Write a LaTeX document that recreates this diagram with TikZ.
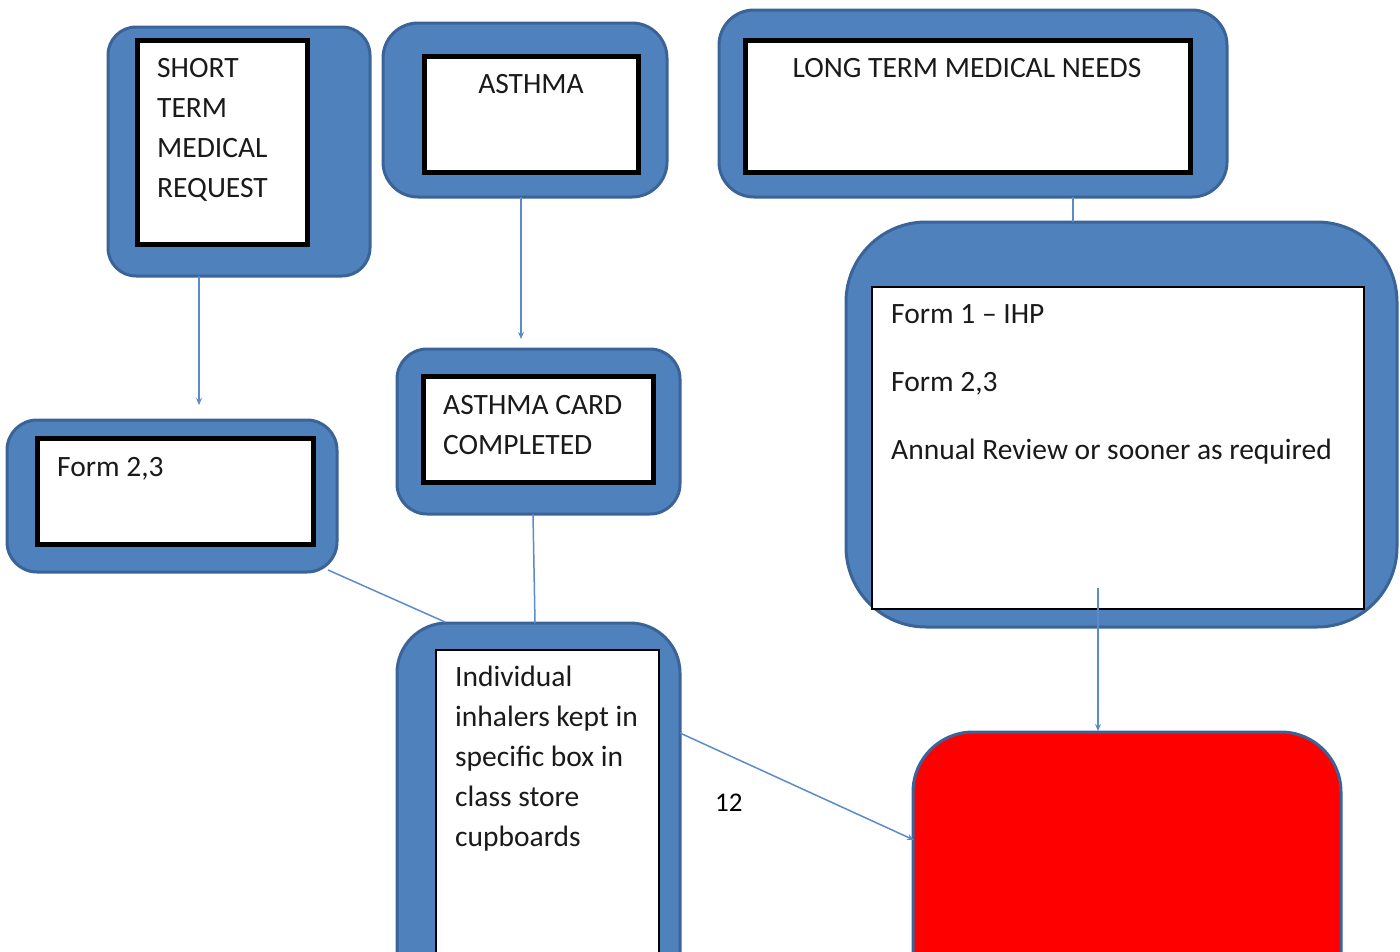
\documentclass[tikz,border=0pt]{standalone}
\usepackage{fontspec}
\setmainfont{Carlito}
\usetikzlibrary{arrows.meta,calc}
\definecolor{boxblue}{HTML}{4F81BD}
\definecolor{boxedge}{HTML}{3A6497}
\definecolor{linkblue}{HTML}{5B8BC9}
\definecolor{txt}{HTML}{1A1A1A}
\tikzset{
  outerbox/.style={draw=boxedge,line width=3pt,fill=boxblue,rectangle,inner sep=0pt},
  innerthick/.style={draw=black,line width=5pt,fill=white,rectangle,inner sep=0pt},
  innerthin/.style={draw=black,line width=2pt,fill=white,rectangle,inner sep=0pt},
  redbox/.style={draw=boxedge,line width=3pt,fill=red,rectangle,rounded corners=60pt,inner sep=0pt},
  label/.style={anchor=base west,inner sep=0pt,text=txt,font=\fontsize{29.5}{34}\selectfont},
  clabel/.style={anchor=base,inner sep=0pt,text=txt,font=\fontsize{29.5}{34}\selectfont},
  link/.style={draw=linkblue,line width=1.5pt},
  linkarrow/.style={link,-{Stealth[length=7pt,width=6pt]}}
}
\begin{document}
\begin{tikzpicture}[x=1pt,y=-1pt]
\useasboundingbox (0,0) rectangle (1400,951);
\clip (0,0) rectangle (1400,951);
% outer blue boxes
\node[outerbox,rounded corners=28pt,minimum width=262pt,minimum height=249pt] (shortO) at (239,151.5) {};
\node[outerbox,rounded corners=35pt,minimum width=284pt,minimum height=174pt] (asthmaO) at (525,110) {};
\node[outerbox,rounded corners=35pt,minimum width=508pt,minimum height=187pt] (longO) at (973,103.5) {};
\node[outerbox,rounded corners=80pt,minimum width=551pt,minimum height=405pt] (bigO) at (1121.5,424.5) {};
\node[outerbox,rounded corners=30pt,minimum width=330pt,minimum height=152pt] (formO) at (172,496) {};
\node[outerbox,rounded corners=30pt,minimum width=283pt,minimum height=165pt] (cardO) at (538.5,431.5) {};
\node[outerbox,rounded corners=50pt,minimum width=283pt,minimum height=427pt] (indO) at (538.5,836.5) {};
\node[redbox,minimum width=428pt,minimum height=318pt] (red) at (1127,891) {};
% inner white boxes
\node[innerthick,minimum width=170pt,minimum height=204pt] (shortI) at (222,142) {};
\node[innerthick,minimum width=214pt,minimum height=116pt] (asthmaI) at (531,114) {};
\node[innerthick,minimum width=445pt,minimum height=132pt] (longI) at (967.5,106) {};
\node[innerthin,minimum width=492pt,minimum height=322pt] (bigI) at (1118,448) {};
\node[innerthick,minimum width=276pt,minimum height=106pt] (formI) at (175,491) {};
\node[innerthick,minimum width=230pt,minimum height=106pt] (cardI) at (538,429) {};
\node[innerthin,minimum width=223pt,minimum height=400pt] (indI) at (547.5,850) {};
% texts
\node[label] (t1) at (157,77) {SHORT};
\node[label] (t2) at (157,117) {TERM};
\node[label] (t3) at (157,157) {MEDICAL};
\node[label] (t4) at (157,197) {REQUEST};
\node[clabel] (t5) at (531,93) {ASTHMA};
\node[clabel] (t6) at (967,77) {LONG TERM MEDICAL NEEDS};
\node[label] (t7) at (891,323) {Form 1 – IHP};
\node[label] (t8) at (891,391) {Form 2,3};
\node[label] (t9) at (891,459) {Annual Review or sooner as required};
\node[label] (t10) at (57,476) {Form 2,3};
\node[label] (t11) at (443,414) {ASTHMA CARD};
\node[label] (t12) at (443,454) {COMPLETED};
\node[label] (t13) at (455,686) {Individual};
\node[label] (t14) at (455,726) {inhalers kept in};
\node[label] (t15) at (455,766) {specific box in};
\node[label] (t16) at (455,806) {class store};
\node[label] (t17) at (455,846) {cupboards};
\node[label,text=black,font=\fontsize{27}{32}\selectfont] (t18) at (715,811) {12};
% connector ends
\coordinate (a1s) at (199,276);
\coordinate (a1e) at (199,405);
\coordinate (a2s) at (521,197);
\coordinate (a2e) at (521,339);
\coordinate (l1s) at (1073,197);
\coordinate (l1e) at (1073,222);
\coordinate (l2s) at (533,514);
\coordinate (l2e) at (535,623);
\coordinate (l3s) at (328,570);
\coordinate (l3e) at (445,622);
\coordinate (a3s) at (680,733);
\coordinate (a3e) at (914,840);
\coordinate (a4s) at (1098,588);
\coordinate (a4e) at (1098,731);
% connectors
\draw[linkarrow] (a1s) -- (a1e);
\draw[linkarrow] (a2s) -- (a2e);
\draw[link] (l1s) -- (l1e);
\draw[link] (l2s) -- (l2e);
\draw[link] (l3s) -- (l3e);
\draw[linkarrow] (a3s) -- (a3e);
\draw[linkarrow] (a4s) -- (a4e);
\end{tikzpicture}
\end{document}
